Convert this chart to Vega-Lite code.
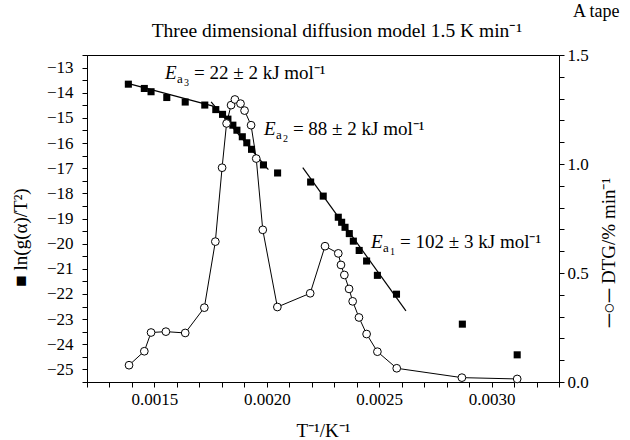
{
  "$schema": "https://vega.github.io/schema/vega-lite/v6.json",
  "width": 472,
  "height": 327,
  "autosize": {"type": "none"},
  "padding": {"left": 87, "top": 55, "right": 71, "bottom": 58},
  "background": "white",
  "config": {
    "font": "Liberation Serif",
    "view": {"stroke": "black", "strokeWidth": 1},
    "axis": {
      "grid": false,
      "domainColor": "black",
      "tickColor": "black",
      "labelColor": "black",
      "titleColor": "black",
      "labelFont": "Liberation Serif",
      "titleFont": "Liberation Serif",
      "labelFontSize": 17,
      "titleFontSize": 19,
      "titleFontWeight": "normal",
      "tickSize": 5,
      "labelOverlap": false,
      "labelFlush": false
    },
    "text": {"font": "Liberation Serif", "color": "black"}
  },
  "layer": [
    {
      "encoding": {
        "x": {
          "field": "x",
          "type": "quantitative",
          "scale": {"domain": [0.0012, 0.0033], "nice": false, "zero": false},
          "axis": {
            "values": [0.0012, 0.0013, 0.0014, 0.0015, 0.0016, 0.0017, 0.0018, 0.0019, 0.002, 0.0021, 0.0022, 0.0023, 0.0024, 0.0025, 0.0026, 0.0027, 0.0028, 0.0029, 0.003, 0.0031, 0.0032, 0.0033],
            "labelExpr": "round(datum.value*10000) % 5 == 0 ? format(datum.value, '.4f') : ''",
            "title": "T⁻¹/K⁻¹",
            "titleY": 48,
            "titleBaseline": "middle",
            "labelPadding": 4
          }
        },
        "y": {
          "field": "y",
          "type": "quantitative",
          "scale": {"domain": [-25.5, -12.5], "nice": false, "zero": false},
          "axis": {
            "values": [-25.5, -25, -24.5, -24, -23.5, -23, -22.5, -22, -21.5, -21, -20.5, -20, -19.5, -19, -18.5, -18, -17.5, -17, -16.5, -16, -15.5, -15, -14.5, -14, -13.5, -13, -12.5],
            "labelExpr": "datum.value % 1 == 0 ? format(datum.value, 'd') : ''",
            "title": "■  ln(g(α)/T²)",
            "titleAngle": -90,
            "titleX": -67,
            "titleY": 182,
            "titleAlign": "center",
            "titleBaseline": "middle",
            "labelPadding": 9
          }
        }
      },
      "layer": [
        {
          "data": {"values": [
            {"line": "a3", "x": 0.001369, "y": -13.60},
            {"line": "a3", "x": 0.001761, "y": -14.53},
            {"line": "a2", "x": 0.001752, "y": -14.36},
            {"line": "a2", "x": 0.002007, "y": -17.06},
            {"line": "a1", "x": 0.00216, "y": -16.98},
            {"line": "a1", "x": 0.002619, "y": -22.67}
          ]},
          "mark": {"type": "line", "color": "black", "strokeWidth": 1.2},
          "encoding": {"detail": {"field": "line"}}
        },
        {
          "data": {"values": [
            {"x": 0.001384, "y": -13.66}, {"x": 0.001455, "y": -13.83}, {"x": 0.001485, "y": -13.96},
            {"x": 0.001555, "y": -14.19}, {"x": 0.001637, "y": -14.37}, {"x": 0.001724, "y": -14.49},
            {"x": 0.001773, "y": -14.67}, {"x": 0.001803, "y": -14.86}, {"x": 0.001827, "y": -15.05},
            {"x": 0.001849, "y": -15.29}, {"x": 0.001867, "y": -15.49}, {"x": 0.001891, "y": -15.75},
            {"x": 0.001911, "y": -15.99}, {"x": 0.001932, "y": -16.25}, {"x": 0.001985, "y": -16.87},
            {"x": 0.002048, "y": -17.19}, {"x": 0.002195, "y": -17.55}, {"x": 0.002251, "y": -18.11},
            {"x": 0.002318, "y": -18.95}, {"x": 0.002333, "y": -19.15}, {"x": 0.002348, "y": -19.35},
            {"x": 0.002367, "y": -19.60}, {"x": 0.002385, "y": -19.90}, {"x": 0.002411, "y": -20.27},
            {"x": 0.002444, "y": -20.69}, {"x": 0.002492, "y": -21.26}, {"x": 0.002577, "y": -22.01},
            {"x": 0.00287, "y": -23.20}, {"x": 0.003114, "y": -24.42}
          ]},
          "mark": {"type": "point", "shape": "square", "filled": true, "color": "black", "size": 50, "opacity": 1}
        },
        {
          "data": {"values": [
            {"x": 0.001547, "y": -13.22, "e": "E", "a": "a", "n": "3", "rest": "= 22 ± 2 kJ mol⁻¹"},
            {"x": 0.001987, "y": -15.43, "e": "E", "a": "a", "n": "2", "rest": "= 88 ± 2 kJ mol⁻¹"},
            {"x": 0.002464, "y": -19.92, "e": "E", "a": "a", "n": "1", "rest": "= 102 ± 3 kJ mol⁻¹"}
          ]},
          "layer": [
            {
              "mark": {"type": "text", "align": "left", "baseline": "middle", "fontSize": 19, "fontStyle": "italic", "color": "black"},
              "encoding": {"text": {"field": "e"}}
            },
            {
              "mark": {"type": "text", "align": "left", "baseline": "middle", "fontSize": 13, "dx": 12, "dy": 6, "color": "black"},
              "encoding": {"text": {"field": "a"}}
            },
            {
              "mark": {"type": "text", "align": "left", "baseline": "middle", "fontSize": 10, "dx": 19, "dy": 10, "color": "black"},
              "encoding": {"text": {"field": "n"}}
            },
            {
              "mark": {"type": "text", "align": "left", "baseline": "middle", "fontSize": 19, "dx": 29, "color": "black"},
              "encoding": {"text": {"field": "rest"}}
            }
          ]
        },
        {
          "data": {"values": [
            {"x": 0.002312, "y": -11.54, "t": "Three dimensional diffusion model 1.5 K min⁻¹", "al": "center"},
            {"x": 0.003362, "y": -10.79, "t": "A tape", "al": "left"}
          ]},
          "layer": [
            {
              "transform": [{"filter": "datum.al == 'center'"}],
              "mark": {"type": "text", "align": "center", "baseline": "middle", "fontSize": 19.5, "color": "black"},
              "encoding": {"text": {"field": "t"}}
            },
            {
              "transform": [{"filter": "datum.al == 'left'"}],
              "mark": {"type": "text", "align": "left", "baseline": "middle", "fontSize": 18, "color": "black"},
              "encoding": {"text": {"field": "t"}}
            }
          ]
        }
      ]
    },
    {
      "data": {"values": [
        {"x": 0.001387, "d": 0.077}, {"x": 0.001455, "d": 0.141}, {"x": 0.001485, "d": 0.227},
        {"x": 0.001551, "d": 0.231}, {"x": 0.001637, "d": 0.225}, {"x": 0.001722, "d": 0.341},
        {"x": 0.001771, "d": 0.644}, {"x": 0.001801, "d": 0.983}, {"x": 0.001821, "d": 1.186},
        {"x": 0.001841, "d": 1.270}, {"x": 0.001858, "d": 1.296}, {"x": 0.001883, "d": 1.277},
        {"x": 0.001901, "d": 1.245}, {"x": 0.00193, "d": 1.178}, {"x": 0.001953, "d": 1.025},
        {"x": 0.001982, "d": 0.698}, {"x": 0.002047, "d": 0.344}, {"x": 0.002193, "d": 0.407},
        {"x": 0.002259, "d": 0.623}, {"x": 0.002318, "d": 0.590}, {"x": 0.00233, "d": 0.537},
        {"x": 0.002345, "d": 0.491}, {"x": 0.002366, "d": 0.427}, {"x": 0.002382, "d": 0.370},
        {"x": 0.00241, "d": 0.296}, {"x": 0.002444, "d": 0.220}, {"x": 0.002492, "d": 0.139},
        {"x": 0.002578, "d": 0.063}, {"x": 0.002868, "d": 0.020}, {"x": 0.003114, "d": 0.014}
      ]},
      "encoding": {
        "x": {
          "field": "x",
          "type": "quantitative",
          "scale": {"domain": [0.0012, 0.0033], "nice": false, "zero": false},
          "axis": {
            "values": [0.0012, 0.0013, 0.0014, 0.0015, 0.0016, 0.0017, 0.0018, 0.0019, 0.002, 0.0021, 0.0022, 0.0023, 0.0024, 0.0025, 0.0026, 0.0027, 0.0028, 0.0029, 0.003, 0.0031, 0.0032, 0.0033],
            "labelExpr": "round(datum.value*10000) % 5 == 0 ? format(datum.value, '.4f') : ''",
            "title": "T⁻¹/K⁻¹",
            "titleY": 48,
            "titleBaseline": "middle",
            "labelPadding": 4
          }
        },
        "y": {
          "field": "d",
          "type": "quantitative",
          "scale": {"domain": [0, 1.5], "nice": false, "zero": false},
          "axis": {
            "orient": "right",
            "values": [0, 0.1, 0.2, 0.3, 0.4, 0.5, 0.6, 0.7, 0.8, 0.9, 1.0, 1.1, 1.2, 1.3, 1.4, 1.5],
            "labelExpr": "round(datum.value*10) % 5 == 0 ? format(datum.value, '.1f') : ''",
            "title": "─○─  DTG/% min⁻¹",
            "titleAngle": -90,
            "titleX": 49,
            "titleY": 197,
            "titleAlign": "center",
            "titleBaseline": "middle",
            "labelPadding": 3
          }
        }
      },
      "layer": [
        {"mark": {"type": "line", "color": "black", "strokeWidth": 1}},
        {"mark": {"type": "point", "shape": "circle", "filled": true, "fill": "white", "stroke": "black", "strokeWidth": 1, "size": 60, "opacity": 1}}
      ]
    }
  ],
  "resolve": {"scale": {"y": "independent"}}
}
